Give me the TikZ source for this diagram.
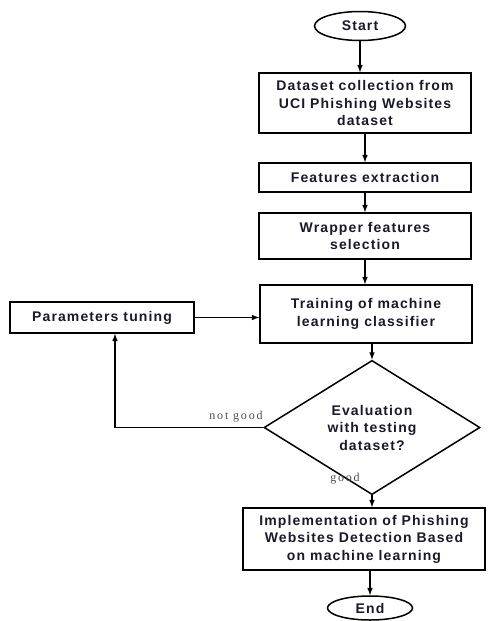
\documentclass[tikz,border=0pt]{standalone}
\usepackage{fontspec}
\usetikzlibrary{positioning}
\usetikzlibrary{shapes.geometric}
\newfontfamily\boxfont[LetterSpace=8]{Liberation Sans}
\newfontfamily\answerfont[LetterSpace=15]{Liberation Serif}
\tikzset{
	every node/.style = {font=\boxfont\bfseries\fontsize{14}{17.5}\selectfont, text={rgb,255:red,25;green,25;blue,45}}
}
\tikzset{
	stepbox/.style = {draw=black, rectangle, line width=1.5pt, minimum width=212pt, inner sep=0pt, align=center},
	terminal/.style = {draw=black, ellipse, line width=1.5pt, inner sep=0pt},
	decision/.style = {draw=black, diamond, line width=1.5pt, minimum width=216pt, minimum height=113pt, inner sep=0pt, align=center},
	flow/.style = {line width=1.5pt, -latex},
	answer/.style = {font=\answerfont\fontsize{12}{14}\selectfont, text=black!70}
}

\begin{document}
\begin{tikzpicture}[x=1pt, y=-1pt]
        \useasboundingbox (0,0) rectangle (492,621);

        \def\colX{365}                               % x of the main column

        % Start and the chain of steps
        \node[terminal, minimum width=91pt, minimum height=29pt] (start) at (360,26) {Start};
        \node[stepbox, minimum height=60pt] (collect) at (\colX,103) {Dataset collection from\\UCI Phishing Websites\\dataset};
        \node[stepbox, minimum height=29pt] (extract) at (\colX,177.5) {Features extraction};
        \node[stepbox, minimum height=46pt] (wrapper) at (\colX,236) {Wrapper features\\selection};
        \node[stepbox, minimum height=58pt] (train) at (\colX+1,314) {Training of machine\\learning classifier};

        % Tuning box on the left
        \node[stepbox, minimum width=184pt, minimum height=31pt] (tune) at (102,317.5) {Parameters tuning};

        % Decision
        \node[decision] (eval) at (372,427.5) {Evaluation\\with testing\\dataset?};

        % Final step and end
        \node[stepbox, minimum width=242pt, minimum height=62pt] (impl) at (364,539) {Implementation of Phishing\\Websites Detection Based\\on machine learning};
        \node[terminal, minimum width=85pt, minimum height=24pt] (end) at (370,608) {End};

        % Answer labels
        \node[answer] (notgood) at (236,417) {not good};
        \node[answer] (good) at (345,479) {good};

        % Connectors
        \draw[flow] (start.south) -- (start.south |- collect.north);
        \draw[flow] (collect) -- (extract);
        \draw[flow] (extract) -- (wrapper);
        \draw[flow] (wrapper.south) -- (wrapper.south |- train.north);
        \draw[flow] (train.south -| eval.north) -- (eval.north);
        \draw[flow] (tune.east) -- (tune.east -| train.west);
        \draw[flow] (eval.west) -| ([xshift=13pt]tune.south);
        \draw[flow] (eval.south) -- (eval.south |- impl.north);
        \draw[flow] (impl.south -| end.north) -- (end.north);
    \end{tikzpicture}
\end{document}
